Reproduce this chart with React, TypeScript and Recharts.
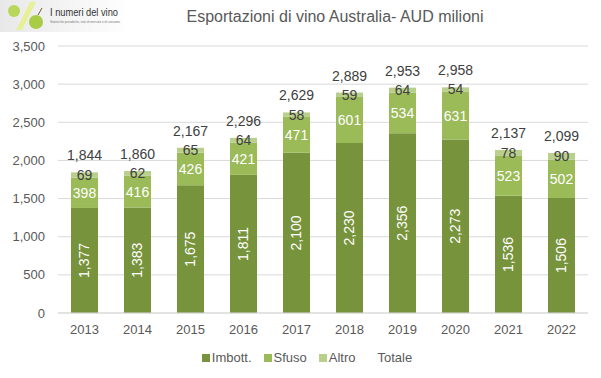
import React from "react";
import { BarChart, Bar, XAxis, YAxis, CartesianGrid, Legend, LabelList } from "recharts";

const years = ["2013", "2014", "2015", "2016", "2017", "2018", "2019", "2020", "2021", "2022"];
const imbott = [1377, 1383, 1675, 1811, 2100, 2230, 2356, 2273, 1536, 1506];
const sfuso = [398, 416, 426, 421, 471, 601, 534, 631, 523, 502];
const altro = [69, 62, 65, 64, 58, 59, 64, 54, 78, 90];
const totale = [1844, 1860, 2167, 2296, 2629, 2889, 2953, 2958, 2137, 2099];
const yTicks = [0, 500, 1000, 1500, 2000, 2500, 3000, 3500];

const data = years.map((year, i) => ({
  year,
  imbott: imbott[i],
  sfuso: sfuso[i],
  altro: altro[i],
  totale: totale[i],
}));

const COLORS = { imbott: "#77933c", sfuso: "#9bbb59", altro: "#b9cf8c" };
const FONT = "'Liberation Sans', Arial, sans-serif";
const fmt = (v: any) => Number(v).toLocaleString("en-US");

const legendItems = [
  { label: "Imbott.", color: COLORS.imbott },
  { label: "Sfuso", color: COLORS.sfuso },
  { label: "Altro", color: COLORS.altro },
  { label: "Totale", color: null },
];

function LegendContent() {
  return (
    <div
      style={{
        display: "flex",
        justifyContent: "center",
        paddingLeft: 26,
        fontFamily: FONT,
        fontSize: 13,
        color: "#595959",
      }}
    >
      {legendItems.map((item, i) => (
        <span
          key={item.label}
          style={{ display: "inline-flex", alignItems: "center", marginRight: i < legendItems.length - 1 ? 12 : 0 }}
        >
          <span
            style={{
              display: "inline-block",
              width: 8,
              height: 8,
              marginRight: 2,
              background: item.color || "transparent",
            }}
          />
          {item.label}
        </span>
      ))}
    </div>
  );
}

function Logo() {
  return (
    <svg width={130} height={32} style={{ position: "absolute", left: 0, top: 0 }}>
      <defs>
        <linearGradient id="lg" x1="0" y1="0" x2="1" y2="0">
          <stop offset="0" stopColor="#e8e8e8" />
          <stop offset="1" stopColor="#ffffff" />
        </linearGradient>
      </defs>
      <rect x={0} y={0} width={130} height={32} fill="url(#lg)" />
      <polygon points="30,2 36,2 22,30 16,30" fill="#e6f09a" />
      <circle cx={14} cy={11} r={6} fill="#b8d65a" />
      <circle cx={36} cy={22} r={7} fill="#a9cc45" />
      <line x1={38} y1={15} x2={42} y2={8} stroke="#6b5a2a" strokeWidth={1} />
      <text x={50} y={16} fontFamily={FONT} fontSize={11} textLength={68} lengthAdjust="spacingAndGlyphs" fill="#333">
        I numeri del vino
      </text>
      <text x={50} y={23} fontFamily={FONT} fontSize={3} textLength={70} fill="#777">
        Statistiche periodiche, stati di mercato e di consumo
      </text>
    </svg>
  );
}

export default function App() {
  return (
    <div style={{ position: "fixed", left: 0, top: 0, width: 601, height: 378, background: "#fff" }}>
      <Logo />
      <div
        style={{
          position: "absolute",
          top: 8,
          left: 160,
          width: 350,
          textAlign: "center",
          fontFamily: FONT,
          fontSize: 16,
          color: "#595959",
        }}
      >
        Esportazioni di vino Australia- AUD milioni
      </div>
      <BarChart width={601} height={378} data={data} margin={{ top: 46, right: 13, left: 0, bottom: 11 }} barSize={27}>
        <CartesianGrid vertical={false} stroke="#d9d9d9" />
        <XAxis
          dataKey="year"
          tickLine={false}
          axisLine={{ stroke: "#d9d9d9" }}
          tick={{ fill: "#595959", fontSize: 13, fontFamily: FONT }}
          tickMargin={6}
        />
        <YAxis
          width={58}
          domain={[0, 3500]}
          ticks={yTicks}
          tickFormatter={fmt}
          tickLine={false}
          axisLine={false}
          tickMargin={7}
          tick={{ fill: "#595959", fontSize: 13, fontFamily: FONT }}
        />
        <Legend content={<LegendContent />} verticalAlign="bottom" height={24} wrapperStyle={{ bottom: 4 }} />
        <Bar dataKey="imbott" name="Imbott." stackId="a" fill={COLORS.imbott} isAnimationActive={false}>
          <LabelList
            dataKey="imbott"
            position="center"
            angle={-90}
            formatter={fmt}
            fill="#ffffff"
            fontSize={14}
            fontFamily={FONT}
          />
        </Bar>
        <Bar dataKey="sfuso" name="Sfuso" stackId="a" fill={COLORS.sfuso} isAnimationActive={false}>
          <LabelList dataKey="sfuso" position="center" fill="#ffffff" fontSize={14} fontFamily={FONT} />
        </Bar>
        <Bar dataKey="altro" name="Altro" stackId="a" fill={COLORS.altro} isAnimationActive={false}>
          <LabelList dataKey="altro" position="center" fill="#404040" fontSize={14} fontFamily={FONT} />
          <LabelList
            dataKey="totale"
            position="top"
            offset={12}
            formatter={fmt}
            fill="#404040"
            fontSize={14}
            fontFamily={FONT}
          />
        </Bar>
      </BarChart>
    </div>
  );
}
